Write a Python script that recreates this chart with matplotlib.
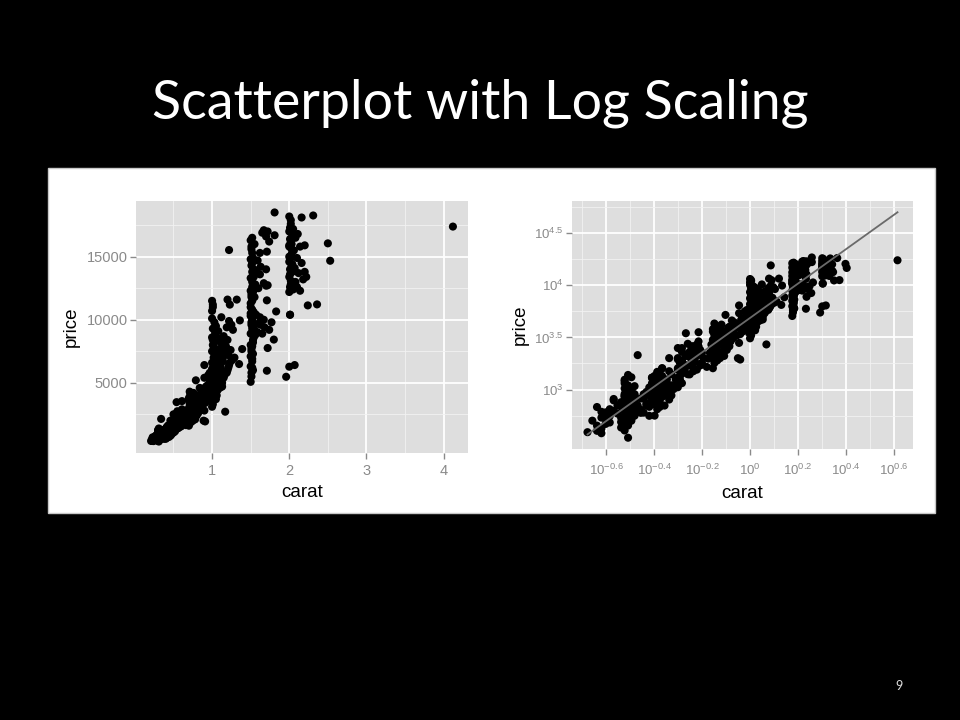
import matplotlib
matplotlib.use("Agg")
import matplotlib.pyplot as plt
from matplotlib.patches import Rectangle
from matplotlib.ticker import FixedLocator, FixedFormatter, NullFormatter
import numpy as np

plt.rcParams["mathtext.fontset"] = "custom"
plt.rcParams["mathtext.rm"] = "Liberation Sans"
plt.rcParams["mathtext.it"] = "Liberation Sans:italic"
plt.rcParams["mathtext.default"] = "regular"

# diamond sample (carat, price), 10 per row
carat = [
    # ~0.2-0.28 ct
    0.21, 0.23, 0.23, 0.22, 0.24, 0.24, 0.25, 0.25, 0.24, 0.26,
    0.26, 0.25, 0.27, 0.27, 0.26, 0.23, 0.24, 0.27, 0.28, 0.28,
    # ~0.3 ct
    0.30, 0.31, 0.29, 0.32, 0.30, 0.33, 0.31, 0.30, 0.32, 0.29,
    0.31, 0.30, 0.33, 0.32, 0.30, 0.31, 0.30, 0.32, 0.29, 0.33,
    0.30, 0.31, 0.31, 0.30, 0.32, 0.33, 0.29, 0.31, 0.30, 0.32,
    0.31, 0.30, 0.31, 0.32, 0.33, 0.30, 0.29, 0.32, 0.31, 0.30,
    0.32, 0.33, 0.30, 0.31, 0.29, 0.32, 0.33, 0.31, 0.30, 0.29,
    0.30, 0.32, 0.31, 0.33, 0.30, 0.31, 0.32, 0.30, 0.33, 0.31,
    # ~0.4 ct
    0.34, 0.35, 0.34, 0.36, 0.35, 0.37, 0.36, 0.38, 0.35, 0.39,
    0.36, 0.38, 0.37, 0.39, 0.40, 0.38, 0.41, 0.40, 0.42, 0.39,
    0.40, 0.41, 0.40, 0.42, 0.43, 0.40, 0.41, 0.44, 0.40, 0.42,
    0.40, 0.41, 0.43, 0.40, 0.42, 0.44, 0.41, 0.45, 0.40, 0.43,
    0.42, 0.44, 0.45, 0.43, 0.46, 0.41, 0.45, 0.47, 0.44, 0.46,
    0.45, 0.47, 0.44, 0.46, 0.47, 0.39, 0.37, 0.36, 0.38, 0.42,
    0.35, 0.37, 0.39, 0.41, 0.43, 0.45, 0.38, 0.40, 0.42, 0.46,
    # ~0.5-0.64 ct
    0.50, 0.51, 0.50, 0.52, 0.50, 0.53, 0.51, 0.50, 0.54, 0.52,
    0.50, 0.55, 0.51, 0.50, 0.52, 0.56, 0.53, 0.50, 0.57, 0.51,
    0.53, 0.52, 0.55, 0.50, 0.54, 0.56, 0.58, 0.51, 0.53, 0.55,
    0.54, 0.55, 0.57, 0.56, 0.58, 0.52, 0.59, 0.60, 0.57, 0.61,
    0.58, 0.60, 0.62, 0.59, 0.61, 0.61, 0.63, 0.62, 0.64, 0.60,
    0.48, 0.49, 0.53, 0.56, 0.59, 0.63, 0.51, 0.57, 0.49, 0.52,
    # ~0.7-0.89 ct
    0.70, 0.71, 0.70, 0.72, 0.70, 0.73, 0.71, 0.70, 0.74, 0.72,
    0.70, 0.75, 0.71, 0.70, 0.72, 0.76, 0.73, 0.70, 0.77, 0.71,
    0.73, 0.72, 0.75, 0.70, 0.74, 0.76, 0.78, 0.71, 0.73, 0.75,
    0.74, 0.75, 0.77, 0.76, 0.78, 0.72, 0.79, 0.80, 0.77, 0.81,
    0.78, 0.80, 0.82, 0.79, 0.81, 0.81, 0.83, 0.82, 0.84, 0.80,
    0.81, 0.83, 0.85, 0.86, 0.85, 0.87, 0.88, 0.88, 0.89, 0.79,
    0.66, 0.67, 0.68, 0.69, 0.70, 0.71, 0.72, 0.73, 0.74, 0.76,
    # ~0.9-1.39 ct
    0.90, 0.91, 0.90, 0.92, 0.90, 0.90, 0.91, 0.93, 0.91, 0.92,
    0.92, 0.95, 0.94, 0.95, 0.96, 0.97, 0.98, 0.98, 0.93, 0.97,
    1.00, 1.01, 1.00, 1.02, 1.00, 1.03, 1.01, 1.00, 1.04, 1.02,
    1.00, 1.01, 1.00, 1.01, 1.00, 1.01, 1.00, 1.03, 1.00, 1.02,
    1.01, 1.03, 1.02, 1.04, 1.05, 1.01, 1.06, 1.02, 1.07, 1.03,
    1.02, 1.01, 1.04, 1.03, 1.00, 1.01, 1.05, 1.06, 1.08, 1.07,
    1.03, 1.05, 1.07, 1.09, 1.04, 1.06, 1.08, 1.10, 1.04, 1.05,
    1.05, 1.06, 1.05, 1.07, 1.06, 1.08, 1.09, 1.10, 1.08, 1.11,
    1.08, 1.10, 1.12, 1.10, 1.11, 1.13, 1.11, 1.12, 1.14, 1.12,
    1.12, 1.13, 1.14, 1.15, 1.16, 1.15, 1.16, 1.18, 1.17, 1.19,
    1.19, 1.20, 1.21, 1.20, 1.22, 1.20, 1.21, 1.22, 1.22, 1.23,
    1.23, 1.24, 1.26, 1.25, 1.29, 1.27, 1.32, 1.35, 1.36, 1.39,
    0.99, 1.00, 1.02, 1.04, 1.01, 1.03, 1.00, 1.06, 0.96, 0.94,
    1.01, 1.00, 1.02, 1.03, 1.05, 1.07, 1.09, 1.11, 1.13, 1.15,
    # ~1.5-1.83 ct
    1.50, 1.51, 1.50, 1.52, 1.50, 1.51, 1.50, 1.53, 1.50, 1.52,
    1.51, 1.50, 1.52, 1.50, 1.51, 1.50, 1.53, 1.50, 1.52, 1.51,
    1.50, 1.52, 1.51, 1.50, 1.53, 1.51, 1.52, 1.50, 1.51, 1.53,
    1.51, 1.52, 1.53, 1.51, 1.50, 1.52, 1.54, 1.51, 1.52, 1.52,
    1.52, 1.52, 1.52, 1.52, 1.52, 1.53, 1.53, 1.53, 1.53, 1.54,
    1.54, 1.54, 1.55, 1.55, 1.55, 1.56, 1.56, 1.57, 1.57, 1.59,
    1.59, 1.60, 1.60, 1.62, 1.62, 1.62, 1.63, 1.63, 1.65, 1.65,
    1.67, 1.67, 1.67, 1.68, 1.70, 1.70, 1.70, 1.71, 1.71, 1.71,
    1.72, 1.72, 1.72, 1.74, 1.74, 1.77, 1.80, 1.81, 1.81, 1.83,
    # ~2 ct and above
    1.96, 2.00, 2.01, 2.00, 2.02, 2.00, 2.01, 2.00, 2.03, 2.00,
    2.01, 2.00, 2.02, 2.00, 2.01, 2.03, 2.00, 2.01, 2.02, 2.01,
    2.01, 2.03, 2.02, 2.01, 2.02, 2.00, 2.04, 2.02, 2.03, 2.04,
    2.03, 2.04, 2.05, 2.05, 2.06, 2.07, 2.07, 2.08, 2.08, 2.10,
    2.10, 2.11, 2.12, 2.14, 2.14, 2.16, 2.16, 2.18, 2.20, 2.20,
    2.22, 2.24, 2.31, 2.36, 2.50, 2.53, 4.12,
]
price = [
    390, 680, 451, 503, 538, 422, 604, 468, 612, 557,
    648, 521, 812, 787, 483, 402, 381, 623, 702, 588,
    405, 452, 488, 523, 561, 598, 644, 676, 722, 757,
    812, 848, 903, 957, 1024, 1096, 1203, 1312, 537, 584,
    703, 345, 470, 532, 611, 652, 728, 781, 868, 942,
    1052, 1148, 1381, 502, 561, 618, 688, 741, 823, 908,
    992, 1078, 558, 642, 701, 779, 871, 983, 1243, 432,
    518, 612, 698, 760, 880, 470, 540, 655, 720, 590,
    2140, 612, 703, 822, 598, 721, 853, 978, 641, 762,
    902, 1048, 702, 818, 962, 683, 791, 921, 1102, 1298,
    562, 648, 721, 793, 851, 918, 1003, 1082, 1151, 1238,
    1352, 1478, 1602, 882, 962, 702, 831, 958, 1118, 1597,
    748, 883, 1021, 1252, 802, 948, 1103, 878, 1052, 921,
    1148, 1402, 1049, 2003, 1098, 1302, 742, 600, 880, 1400,
    820, 950, 1150, 1240, 1350, 1250, 560, 780, 680, 1500,
    1052, 1181, 1298, 1423, 1551, 1679, 1802, 1948, 2103, 2298,
    2502, 2748, 1251, 1602, 1152, 1398, 1701, 2003, 2402, 1203,
    1502, 1848, 2198, 1302, 1652, 2048, 2601, 1352, 1748, 2151,
    3470, 1402, 1798, 2302, 1498, 1902, 2448, 1552, 2003, 2898,
    1601, 2102, 1702, 2198, 2601, 3550, 1802, 2398, 2002, 2702,
    1010, 1120, 1480, 1720, 1850, 2250, 1900, 2600, 1250, 2500,
    1602, 1798, 2003, 2198, 2402, 2601, 2798, 3002, 3198, 3402,
    3601, 3898, 4302, 2102, 2498, 2902, 1902, 2301, 2702, 3101,
    3498, 4102, 2003, 2448, 2902, 3302, 2102, 2598, 3148, 3802,
    2198, 2748, 2302, 2902, 3448, 4003, 5200, 2398, 3002, 3598,
    2502, 3098, 2602, 3248, 3902, 2702, 3302, 4003, 4602, 2798,
    3502, 2902, 3702, 4402, 3102, 3902, 3302, 4202, 2000, 3600,
    1650, 1980, 2250, 2700, 3800, 3350, 3700, 2350, 3550, 4200,
    2802, 3402, 4003, 4702, 5402, 6410, 1940, 3602, 4302, 3802,
    4602, 3902, 4802, 5602, 4102, 5002, 4202, 5202, 4500, 5800,
    3102, 3602, 4102, 4502, 4902, 5302, 5702, 6102, 6502, 7002,
    7502, 8002, 8602, 9302, 10102, 11002, 11502, 4302, 5102, 5902,
    3302, 3902, 4402, 4802, 5202, 5602, 6002, 6402, 6902, 7402,
    7902, 8402, 9002, 9802, 10702, 11202, 3702, 4502, 5502, 6302,
    3902, 4702, 5402, 6802, 8802, 4002, 4902, 6102, 7602, 4202,
    5102, 6602, 9502, 4402, 5302, 7102, 8302, 4602, 5802, 7302,
    9102, 4802, 6002, 7702, 8502, 5002, 6302, 5202, 6702, 8202,
    10202, 4702, 7002, 5402, 7502, 8702, 5602, 7902, 2710, 5802,
    9402, 6002, 7202, 8402, 9902, 11602, 6202, 15530, 6402, 11202,
    6602, 7602, 6802, 9602, 7002, 9202, 11600, 6490, 9950, 7680,
    3500, 3800, 4200, 4600, 5000, 5400, 6600, 5100, 4400, 3700,
    4000, 4400, 4900, 5500, 6000, 6400, 6800, 7200, 7700, 8100,
    5080, 5802, 6302, 6702, 7102, 7502, 8002, 8402, 8902, 9302,
    9802, 10302, 10802, 11302, 11802, 12302, 12802, 13302, 13802, 14302,
    14802, 15302, 15802, 16302, 6002, 7702, 9002, 10502, 12002, 13602,
    5502, 6902, 8202, 9602, 11002, 12602, 14002, 15602, 16502, 6202,
    7902, 10002, 11502, 13002, 14502, 7302, 9402, 12202, 14902, 8602,
    10602, 13402, 9202, 11802, 16002, 8802, 12802, 10402, 13902, 9002,
    14702, 9702, 12502, 10202, 13602, 15302, 9602, 14202, 8902, 16902,
    10002, 12902, 17102, 9402, 14002, 16602, 12702, 5960, 11540, 15402,
    7760, 12740, 17002, 9202, 16202, 9802, 8430, 18510, 16702, 10660,
    5480, 6280, 10400, 12202, 12802, 13402, 14002, 14602, 15202, 15802,
    16402, 17002, 17602, 18190, 12602, 14302, 15902, 10400, 12502, 13602,
    14802, 15602, 16202, 17302, 13102, 15002, 16702, 17902, 12902, 14402,
    16002, 13802, 17202, 12402, 15502, 6410, 14102, 16502, 13002, 12602,
    14902, 16802, 13702, 12302, 15802, 18110, 14502, 13202, 15902, 13802,
    13402, 11140, 18270, 11220, 16060, 14680, 17390,
]

title = "Scatterplot with Log Scaling"
page_no = "9"

lin_xticks = [1, 2, 3, 4]
lin_yticks = [5000, 10000, 15000]
log_xexp = [-0.6, -0.4, -0.2, 0, 0.2, 0.4, 0.6]
log_xlabels = ["$10^{-0.6}$", "$10^{-0.4}$", "$10^{-0.2}$", "$10^{0}$",
               "$10^{0.2}$", "$10^{0.4}$", "$10^{0.6}$"]
log_yexp = [3, 3.5, 4, 4.5]
log_ylabels = ["$10^{3}$", "$10^{3.5}$", "$10^{4}$", "$10^{4.5}$"]

carat = np.array(carat)
price = np.array(price)

panel = "#dedede"
tickgrey = "#8a8a8a"
dot = 34

fig = plt.figure(figsize=(9.6, 7.2), dpi=100)
fig.patch.set_facecolor("black")

fig.text(0.5, 1 - 118 / 720, title, ha="center", va="baseline",
         color="white", fontsize=38.7, family="Lato")
fig.text(899 / 960, 1 - 686 / 720, page_no, ha="center", va="center",
         color="#dddddd", fontsize=9, family="Lato")

# white picture area
fig.add_artist(Rectangle((48 / 960, 1 - 513 / 720), 887 / 960, 345 / 720,
                         transform=fig.transFigure, facecolor="white",
                         edgecolor="#c8c8c8", lw=1, zorder=-1))


def ggstyle(ax, size):
    ax.set_facecolor(panel)
    for s in ax.spines.values():
        s.set_visible(False)
    ax.set_axisbelow(True)
    ax.grid(which="major", color="white", lw=1.3)
    ax.grid(which="minor", color="#f2f2f2", lw=0.6)
    ax.tick_params(which="major", direction="out", length=4, width=1,
                   color=tickgrey, labelcolor=tickgrey, labelsize=size,
                   pad=2)
    ax.tick_params(which="minor", length=0)
    for lab in ax.get_xticklabels() + ax.get_yticklabels():
        lab.set_family("Liberation Sans")


# left: plain scales
ax1 = fig.add_axes([136 / 960, 1 - 453 / 720, 332 / 960, 252 / 720])
ax1.scatter(carat, price, s=dot, color="black", edgecolors="none")
ax1.margins(0.05)
ax1.set_xticks(lin_xticks)
ax1.set_xticks([0.5, 1.5, 2.5, 3.5], minor=True)
ax1.set_yticks(lin_yticks)
ax1.set_yticks([2500, 7500, 12500, 17500], minor=True)
ax1.set_xticklabels([str(v) for v in lin_xticks])
ax1.set_yticklabels([str(v) for v in lin_yticks])
ggstyle(ax1, 10.5)
ax1.tick_params(axis="x", which="major", pad=4)
ax1.set_xlabel("carat", fontsize=13.5, family="Liberation Sans", labelpad=4)
ax1.set_ylabel("price", fontsize=13.5, family="Liberation Sans", labelpad=5)

# right: log scales with linear fit
ax2 = fig.add_axes([572 / 960, 1 - 449 / 720, 341 / 960, 248 / 720])
ax2.set_xscale("log")
ax2.set_yscale("log")
ax2.scatter(carat, price, s=dot, color="black", edgecolors="none", zorder=2)
coef = np.polyfit(np.log10(carat), np.log10(price), 1)
xs = np.array([carat.min(), carat.max()])
ax2.plot(xs, 10 ** np.polyval(coef, np.log10(xs)), color="#6a6a6a",
         lw=1.3, zorder=3)
ax2.margins(0.05)
ax2.xaxis.set_major_locator(FixedLocator([10 ** e for e in log_xexp]))
ax2.xaxis.set_major_formatter(FixedFormatter(log_xlabels))
ax2.xaxis.set_minor_locator(FixedLocator([10 ** e for e in
                                          [-0.7, -0.5, -0.3, -0.1, 0.1, 0.3, 0.5]]))
ax2.xaxis.set_minor_formatter(NullFormatter())
ax2.yaxis.set_major_locator(FixedLocator([10 ** e for e in log_yexp]))
ax2.yaxis.set_major_formatter(FixedFormatter(log_ylabels))
ax2.yaxis.set_minor_locator(FixedLocator([10 ** e for e in
                                          [2.75, 3.25, 3.75, 4.25, 4.75]]))
ax2.yaxis.set_minor_formatter(NullFormatter())
ggstyle(ax2, 9.5)
ax2.tick_params(axis="x", which="major", pad=6)
ax2.set_xlabel("carat", fontsize=13.5, family="Liberation Sans", labelpad=5)
ax2.set_ylabel("price", fontsize=13.5, family="Liberation Sans", labelpad=4)

fig.savefig("out.png", dpi=100, facecolor="black")
